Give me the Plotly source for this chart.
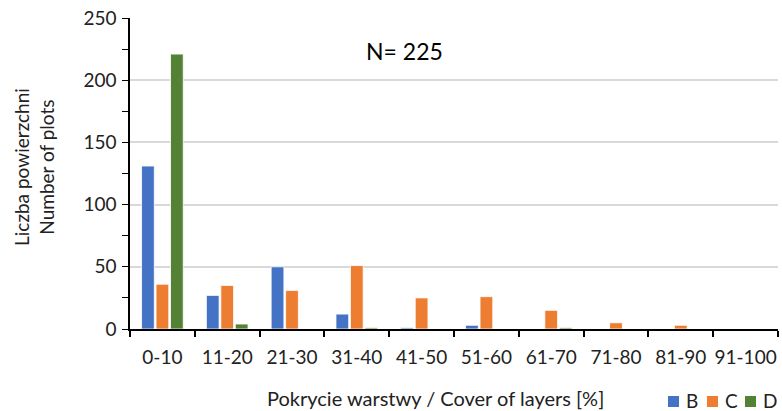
import plotly.graph_objects as go

categories = ["0-10", "11-20", "21-30", "31-40", "41-50", "51-60", "61-70", "71-80", "81-90", "91-100"]
series_B = [131, 27, 50, 12, 1, 3, 0, 0, 0, 0]
series_C = [36, 35, 31, 51, 25, 26, 15, 5, 3, 0]
series_D = [221, 4, 0, 1, 0, 0, 1, 0, 0, 0]
y_ticks = [0, 50, 100, 150, 200, 250]

FONT = "Lato, Liberation Sans, sans-serif"
colors = {"B": "#4472C4", "C": "#ED7D31", "D": "#548235"}
W, H = 782, 411
L, R, T, B = 130, 4, 18, 82
PW, PH = W - L - R, H - T - B


def px(x):
    return (x - L) / PW


def py(y):
    return (H - B - y) / PH


fig = go.Figure()
for name, vals in [("B", series_B), ("C", series_C), ("D", series_D)]:
    fig.add_trace(go.Bar(x=categories, y=vals, name=name,
                         marker=dict(color=colors[name], line=dict(color="white", width=0.8))))

# legend drawn as paper-positioned swatches + labels
shapes = []
annotations = []
for name, sx in [("B", 668), ("C", 707), ("D", 745)]:
    shapes.append(dict(type="rect", xref="paper", yref="paper",
                       x0=px(sx), x1=px(sx + 11), y0=py(407), y1=py(396),
                       fillcolor=colors[name], line=dict(width=0)))
    annotations.append(dict(text=name, x=px(sx + 16), y=py(401), xref="paper", yref="paper",
                            showarrow=False, xanchor="left", yanchor="middle",
                            font=dict(size=19, color="#222")))

annotations += [
    dict(text="N= 225", x=px(404), y=py(51), xref="paper", yref="paper", showarrow=False,
         font=dict(size=23, color="black"), xanchor="center", yanchor="middle"),
    dict(text="Pokrycie warstwy / Cover of layers [%]", x=px(435), y=py(398),
         xref="paper", yref="paper", showarrow=False, font=dict(size=20, color="#222"),
         xanchor="center", yanchor="middle"),
    dict(text="Liczba powierzchni<br>Number of plots", x=px(34), y=py(167),
         xref="paper", yref="paper", showarrow=False, textangle=-90,
         font=dict(size=19, color="#222"), xanchor="center", yanchor="middle"),
]

fig.update_layout(
    width=W, height=H,
    margin=dict(l=L, r=R, t=T, b=B, autoexpand=False),
    paper_bgcolor="white", plot_bgcolor="white",
    barmode="group", bargap=0.33, bargroupgap=0.12,
    font=dict(family=FONT, size=19, color="#222"),
    showlegend=False,
    xaxis=dict(showline=True, linecolor="black", linewidth=1.5, tickangle=0,
               ticks="outside", tickson="boundaries", ticklen=6, tickcolor="black", tickwidth=1.5,
               tickfont=dict(size=19), ticklabelstandoff=10, automargin=False),
    yaxis=dict(range=[0, 250], tickvals=y_ticks, showline=True, linecolor="black", linewidth=1.5,
               ticks="outside", ticklen=6, tickcolor="black", tickwidth=1.2,
               minor=dict(dtick=25, ticks="outside", ticklen=6, tickcolor="black", tickwidth=1.2, showgrid=False),
               gridcolor="#d9d9d9", gridwidth=1.5, tickfont=dict(size=19), zeroline=False,
               ticklabelstandoff=2, automargin=False),
    shapes=shapes,
    annotations=annotations,
)

fig.write_html("out.html", config={"displayModeBar": False},
               post_script="document.body.style.margin='0';")
